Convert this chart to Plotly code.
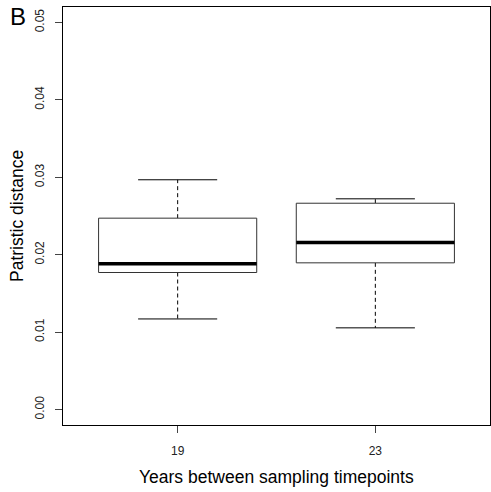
import plotly.graph_objects as go

categories = ["19", "23"]
lower_whisker = [0.0117, 0.01055]
q1 = [0.0177, 0.01895]
median = [0.01882, 0.02158]
q3 = [0.02472, 0.02665]
upper_whisker = [0.02968, 0.02722]
y_ticks = [0.00, 0.01, 0.02, 0.03, 0.04, 0.05]

BOX_HALF = 0.4
CAP_HALF = 0.2

fig = go.Figure()
for i, cat in enumerate(categories):
    x = i + 1
    # whiskers (dashed)
    fig.add_trace(go.Scatter(x=[x, x, None, x, x],
                             y=[q3[i], upper_whisker[i], None, q1[i], lower_whisker[i]],
                             mode="lines", line=dict(color="black", width=1, dash="4px,3px"),
                             hoverinfo="skip", showlegend=False))
    # caps
    fig.add_trace(go.Scatter(x=[x - CAP_HALF, x + CAP_HALF, None, x - CAP_HALF, x + CAP_HALF],
                             y=[upper_whisker[i], upper_whisker[i], None, lower_whisker[i], lower_whisker[i]],
                             mode="lines", line=dict(color="black", width=1),
                             hoverinfo="skip", showlegend=False))
    # box
    fig.add_trace(go.Scatter(x=[x - BOX_HALF, x + BOX_HALF, x + BOX_HALF, x - BOX_HALF, x - BOX_HALF],
                             y=[q1[i], q1[i], q3[i], q3[i], q1[i]],
                             mode="lines", line=dict(color="#333333", width=1),
                             fill="toself", fillcolor="white",
                             hoverinfo="skip", showlegend=False))
    # median
    fig.add_trace(go.Scatter(x=[x - BOX_HALF, x + BOX_HALF], y=[median[i], median[i]],
                             mode="lines", line=dict(color="black", width=3.5),
                             hoverinfo="skip", showlegend=False))

axis_font = dict(family="Liberation Sans, Arial, sans-serif", size=12, color="#222222")
fig.update_layout(
    width=491, height=492,
    margin=dict(l=63, r=1, t=7, b=67),
    paper_bgcolor="white", plot_bgcolor="white",
    font=dict(family="Liberation Sans, Arial, sans-serif", color="black"),
    xaxis=dict(range=[0.42, 2.58], tickvals=[1, 2], ticktext=categories,
               showgrid=False, zeroline=False, showline=True, mirror=True,
               linecolor="black", linewidth=1, ticks="outside", ticklen=7,
               tickcolor="#444444", tickfont=axis_font, ticklabelstandoff=8),
    yaxis=dict(range=[-0.002, 0.052], tickvals=y_ticks,
               ticktext=[f"{v:.2f}" for v in y_ticks], tickangle=-90,
               showgrid=False, zeroline=False, showline=True, mirror=True,
               linecolor="black", linewidth=1, ticks="outside", ticklen=7,
               tickcolor="#444444", tickfont=axis_font, ticklabelstandoff=6),
    annotations=[
        dict(text="Patristic distance", xref="paper", yref="paper", x=-0.1077, y=0.5,
             xanchor="center", yanchor="middle", textangle=-90, showarrow=False,
             font=dict(size=17.5, color="black")),
        dict(text="Years between sampling timepoints", xref="paper", yref="paper",
             x=0.5, y=-0.1244, xanchor="center", yanchor="middle", showarrow=False,
             font=dict(size=17.5, color="black")),
        dict(text="B", xref="paper", yref="paper", x=-0.105, y=0.977,
             xanchor="center", yanchor="middle", showarrow=False,
             font=dict(size=24, color="black")),
    ],
)

fig.write_html("out.html")
